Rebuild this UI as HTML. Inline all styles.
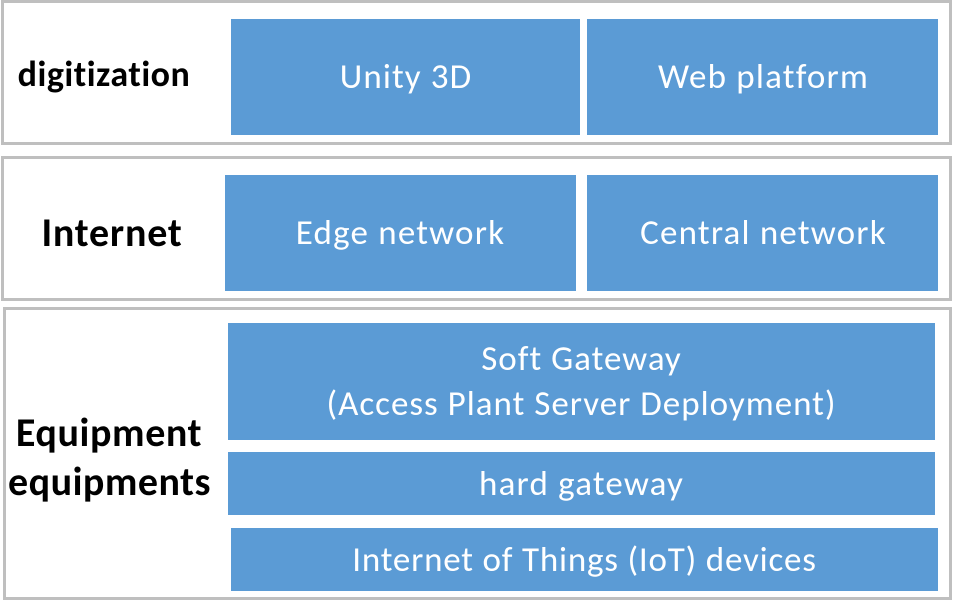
<!DOCTYPE html>
<html>
<head>
<meta charset="utf-8">
<style>
html,body{margin:0;padding:0;background:#fff;}
#c{position:relative;width:953px;height:601px;overflow:hidden;background:#fff;font-family:"Carlito","Liberation Sans",sans-serif;}
.o{position:absolute;box-sizing:border-box;border:3px solid #bfbfbf;background:#fff;}
.b{position:absolute;box-sizing:border-box;background:#5b9bd5;color:#fff;display:flex;align-items:center;justify-content:center;text-align:center;font-size:35px;line-height:45px;letter-spacing:1.1px;white-space:nowrap;}
.l{position:absolute;color:#000;font-weight:bold;font-size:40px;line-height:48px;text-align:center;white-space:nowrap;}
</style>
</head>
<body>
<div id="c">
<div class="o" style="left:1px;top:0;width:951px;height:145px;"></div>
<div class="o" style="left:1px;top:156px;width:951px;height:145px;"></div>
<div class="o" style="left:3px;top:307px;width:949px;height:293px;"></div>

<div class="b" style="left:231px;top:19px;width:349px;height:116px;padding-left:1px;">Unity 3D</div>
<div class="b" style="left:587px;top:19px;width:351px;height:116px;letter-spacing:1.2px;padding-left:2px;">Web platform</div>
<div class="b" style="left:225px;top:175px;width:351px;height:116px;letter-spacing:1.2px;">Edge network</div>
<div class="b" style="left:587px;top:175px;width:351px;height:116px;letter-spacing:1.2px;padding-left:2px;">Central network</div>
<div class="b" style="left:228px;top:323px;width:707px;height:117px;letter-spacing:1px;">Soft Gateway<br>(Access Plant Server Deployment)</div>
<div class="b" style="left:228px;top:452px;width:707px;height:63px;letter-spacing:1.2px;padding-top:2px;">hard gateway</div>
<div class="b" style="left:231px;top:528px;width:707px;height:63px;letter-spacing:0.8px;padding-top:2px;">Internet of Things (IoT) devices</div>

<div class="l" style="left:4px;top:50px;width:200px;font-size:36px;letter-spacing:0.5px;">digitization</div>
<div class="l" style="left:12px;top:209px;width:200px;letter-spacing:0.8px;">Internet</div>
<div class="l" style="left:9px;top:409px;width:200px;letter-spacing:0.6px;">Equipment</div>
<div class="l" style="left:8px;top:458px;width:200px;letter-spacing:0.5px;">equipments</div>
</div>
</body>
</html>
